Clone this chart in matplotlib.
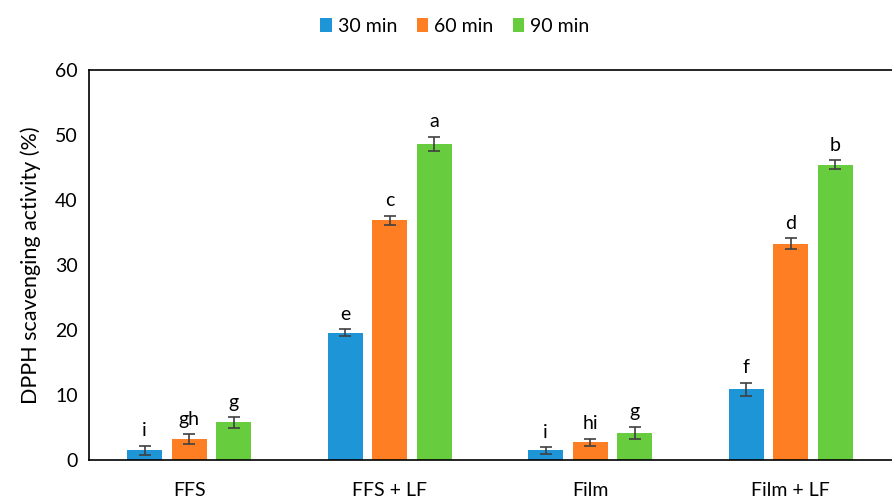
import numpy as np
import matplotlib
matplotlib.use('Agg')
import matplotlib.pyplot as plt

plt.rcParams['font.family'] = ['Lato', 'DejaVu Sans']

categories = ['FFS', 'FFS + LF', 'Film', 'Film + LF']
series = ['30 min', '60 min', '90 min']
colors = ['#1e95d6', '#fd7e23', '#67cc3e']

values = {
    '30 min': [1.5, 19.6, 1.5, 10.9],
    '60 min': [3.2, 36.9, 2.7, 33.3],
    '90 min': [5.8, 48.6, 4.2, 45.4],
}
errors = {
    '30 min': [0.7, 0.5, 0.5, 1.0],
    '60 min': [0.8, 0.7, 0.6, 0.8],
    '90 min': [0.8, 1.1, 0.9, 0.7],
}
letters = {
    '30 min': ['i', 'e', 'i', 'f'],
    '60 min': ['gh', 'c', 'hi', 'd'],
    '90 min': ['g', 'a', 'g', 'b'],
}

fig = plt.figure(figsize=(8.92, 5.04), dpi=100)
ax = fig.add_axes([89/892, 44/504, 1.01 - 89/892, 390/504])

x = np.arange(len(categories))
width = 0.175
step = 0.222
for i, s in enumerate(series):
    pos = x + (i - 1) * step
    ax.bar(pos, values[s], width, color=colors[i], label=s, zorder=2)
    ax.errorbar(pos, values[s], yerr=errors[s], fmt='none', ecolor='#404040',
                elinewidth=1.2, capsize=4, capthick=1.2, zorder=3)
    for p, v, e, t in zip(pos, values[s], errors[s], letters[s]):
        ax.text(p, v + e + 1.0, t, ha='center', va='bottom', fontsize=14)

ax.set_xlim(-0.5, 3.55)
ax.set_ylim(0, 60)
ax.set_yticks(range(0, 61, 10))
ax.set_xticks(x)
ax.set_xticklabels(categories, fontsize=14)
ax.tick_params(axis='y', labelsize=14, length=0, pad=8)
ax.tick_params(axis='x', length=0, pad=16)
ax.set_ylabel('DPPH scavenging activity (%)', fontsize=15.5, labelpad=10)
for sp in ax.spines.values():
    sp.set_linewidth(1.2)
    sp.set_color('black')

fig.legend(loc='upper center', bbox_to_anchor=(0.51, 1.0), ncol=3, frameon=False,
           fontsize=14, handlelength=0.6, handleheight=0.8, handletextpad=0.3,
           columnspacing=1.0)

fig.savefig('out.png', dpi=100)
